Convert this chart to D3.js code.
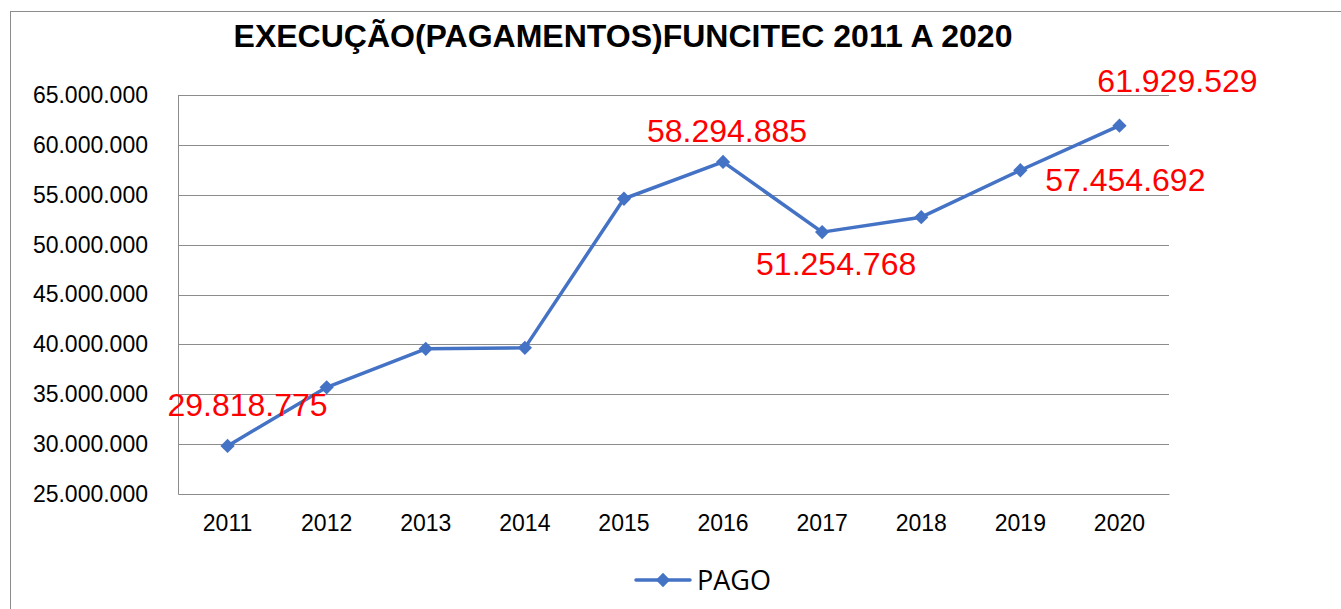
<!DOCTYPE html>
<html>
<head>
<meta charset="utf-8">
<script src="https://cdn.jsdelivr.net/npm/d3@7"></script>
<style>
  body { margin: 0; background: #fff; }
  svg { display: block; font-family: "Liberation Sans", Arial, sans-serif; }
</style>
</head>
<body>
<div id="wrapper"></div>
<script>
const years = ["2011", "2012", "2013", "2014", "2015", "2016", "2017", "2018", "2019", "2020"]
const pago = [29818775, 35700000, 39550000, 39650000, 54600000, 58294885, 51254768, 52750000, 57454692, 61929529]
const yTicks = [25000000, 30000000, 35000000, 40000000, 45000000, 50000000, 55000000, 60000000, 65000000]
// which points get a red value label
const labelled = ["2011", "2016", "2017", "2019", "2020"]

function drawChart() {
  const dimensions = {
    width: 1341,
    height: 609,
    margin: { top: 95, right: 172, bottom: 115, left: 178 },
  }
  dimensions.boundedWidth = dimensions.width - dimensions.margin.left - dimensions.margin.right
  dimensions.boundedHeight = dimensions.height - dimensions.margin.top - dimensions.margin.bottom

  const fmt = d => d3.format(",")(d).replace(/,/g, ".")

  const wrapper = d3.select("#wrapper")
    .append("svg")
    .attr("width", dimensions.width)
    .attr("height", dimensions.height)

  // chart frame
  wrapper.append("rect")
    .attr("x", 10.5)
    .attr("y", 11.5)
    .attr("width", dimensions.width + 10)
    .attr("height", dimensions.height + 10)
    .attr("fill", "none")
    .attr("stroke", "#8c8c8c")

  wrapper.append("text")
    .attr("x", 623)
    .attr("y", 47)
    .attr("text-anchor", "middle")
    .style("font-size", "32px")
    .style("font-weight", "bold")
    .text("EXECUÇÃO(PAGAMENTOS)FUNCITEC 2011 A 2020")

  const bounds = wrapper.append("g")
    .attr("transform", `translate(${dimensions.margin.left},${dimensions.margin.top})`)

  const xScale = d3.scaleBand()
    .domain(years)
    .range([0, dimensions.boundedWidth])

  const yScale = d3.scaleLinear()
    .domain([25000000, 65000000])
    .range([dimensions.boundedHeight, 0])

  // gridlines
  bounds.append("g")
    .selectAll("line")
    .data(yTicks.slice(1))
    .join("line")
    .attr("x1", 0)
    .attr("x2", dimensions.boundedWidth)
    .attr("y1", d => Math.round(yScale(d)) + 0.5)
    .attr("y2", d => Math.round(yScale(d)) + 0.5)
    .attr("stroke", "#8c8c8c")

  const yAxis = bounds.append("g")
    .call(d3.axisLeft(yScale).tickValues(yTicks).tickFormat(fmt).tickSize(0).tickPadding(30))
  yAxis.select(".domain").attr("stroke", "#8c8c8c")
  yAxis.selectAll("text").style("font-size", "23px").attr("fill", "#000")
    .style("font-family", "'Liberation Sans', Arial, sans-serif")

  const xAxis = bounds.append("g")
    .attr("transform", `translate(0,${dimensions.boundedHeight})`)
    .call(d3.axisBottom(xScale).tickSize(0).tickPadding(21))
  xAxis.select(".domain").attr("stroke", "#8c8c8c")
  xAxis.selectAll("text").style("font-size", "23px").attr("fill", "#000")
    .style("font-family", "'Liberation Sans', Arial, sans-serif")

  const xAccessor = (d, i) => xScale(years[i]) + xScale.bandwidth() / 2

  const lineGenerator = d3.line()
    .x((d, i) => xAccessor(d, i))
    .y(d => yScale(d))

  bounds.append("path")
    .attr("d", lineGenerator(pago))
    .attr("fill", "none")
    .attr("stroke", "#4472c4")
    .attr("stroke-width", 3.5)
    .attr("stroke-linejoin", "round")

  const diamond = d3.symbol().type(d3.symbolDiamond2).size(130)

  bounds.append("g")
    .selectAll("path")
    .data(pago)
    .join("path")
    .attr("d", diamond)
    .attr("transform", (d, i) => `translate(${xAccessor(d, i)},${yScale(d)})`)
    .attr("fill", "#4472c4")

  // value labels (offsets from the point, in px)
  const labelOffsets = {
    "2011": [20, -30],
    "2016": [4, -20],
    "2017": [14, 43],
    "2019": [105, 21],
    "2020": [58, -34],
  }

  bounds.append("g")
    .selectAll("text")
    .data(pago.map((d, i) => ({ year: years[i], value: d, i })).filter(d => labelled.includes(d.year)))
    .join("text")
    .attr("x", d => xAccessor(d.value, d.i) + labelOffsets[d.year][0])
    .attr("y", d => yScale(d.value) + labelOffsets[d.year][1])
    .attr("text-anchor", "middle")
    .attr("fill", "#ff0000")
    .style("font-size", "32px")
    .text(d => fmt(d.value))

  // legend
  const legend = wrapper.append("g")
    .attr("transform", "translate(636,580)")

  legend.append("line")
    .attr("x1", 0)
    .attr("x2", 54)
    .attr("stroke", "#4472c4")
    .attr("stroke-width", 3.5)
    .attr("stroke-linecap", "round")

  legend.append("path")
    .attr("d", diamond)
    .attr("transform", "translate(27,0)")
    .attr("fill", "#4472c4")

  legend.append("text")
    .attr("x", 61)
    .attr("y", 10)
    .style("font-family", "'Open Sans', sans-serif")
    .style("font-size", "27px")
    .text("PAGO")
}
drawChart()
</script>
</body>
</html>
